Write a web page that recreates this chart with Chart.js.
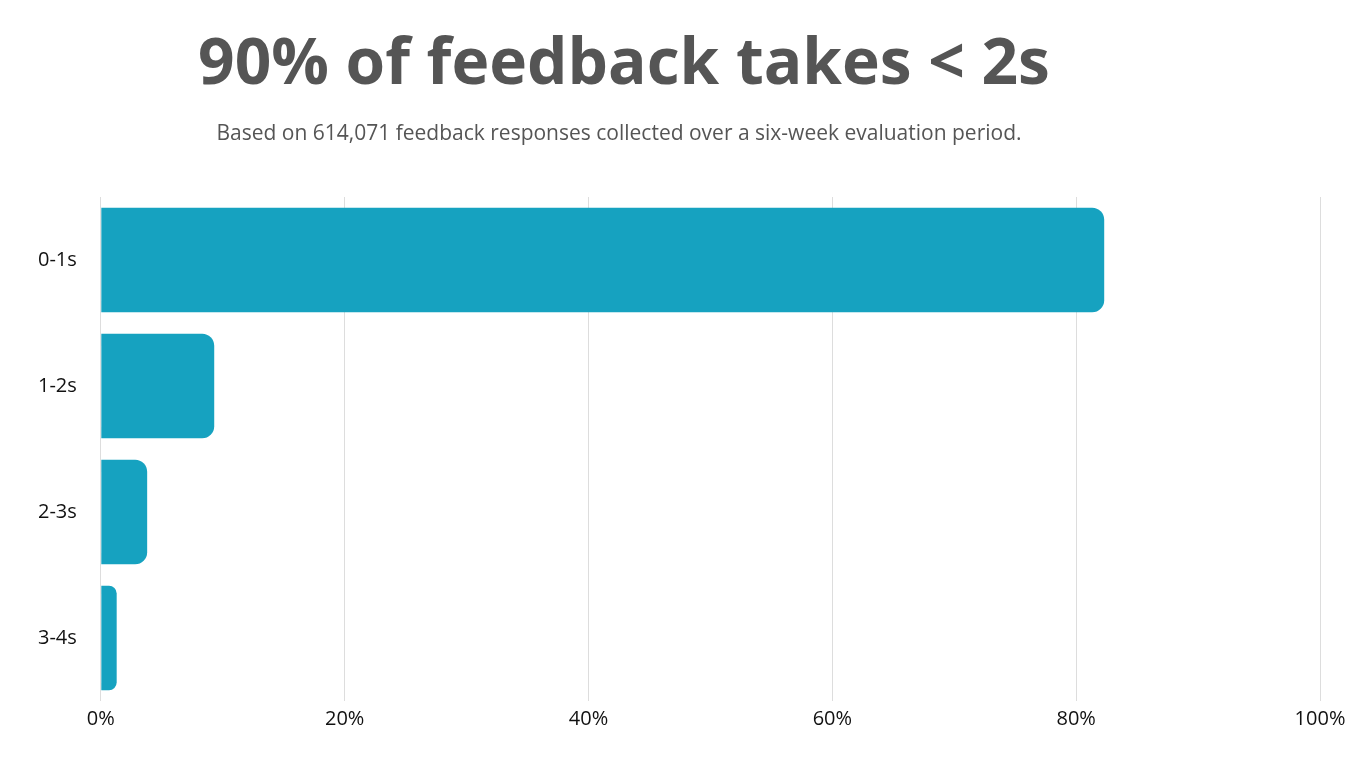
<!DOCTYPE html>
<html lang="en">
<head>
<meta charset="UTF-8">
<title>Feedback latency</title>
<script src="https://cdn.jsdelivr.net/npm/chart.js"></script>
<style>
  html, body { margin: 0; padding: 0; background: #fff; }
  #wrap { width: 1370px; height: 757px; position: relative; font-family: 'Open Sans', sans-serif; color: #555; }
  #wrap canvas { position: absolute; left: 0; top: 0; }
  h1 { position: absolute; left: 0; width: 1248px; top: 22px; margin: 0; text-align: center;
       font-size: 64px; font-weight: bold; line-height: 76px; }
  p.sub { position: absolute; left: 0; width: 1238px; top: 118px; margin: 0; text-align: center;
       font-size: 21px; line-height: 28px; }
</style>
</head>
<body>
<div id="wrap">
  <canvas id="chart"></canvas>
  <h1>90% of feedback takes &lt; 2s</h1>
  <p class="sub">Based on 614,071 feedback responses collected over a six-week evaluation period.</p>
</div>
<script>
const categories = ['0-1s', '1-2s', '2-3s', '3-4s'];
const shares = [82.3, 9.3, 3.8, 1.3];
const tickValues = [0, 20, 40, 60, 80, 100];

new Chart(document.getElementById('chart').getContext('2d'), {
    type: 'bar',
    data: {
        labels: categories,
        datasets: [{
            data: shares,
            backgroundColor: '#16a2c0',
            borderRadius: { topRight: 12, bottomRight: 12 },
            borderSkipped: 'start',
            barPercentage: 0.83,
            categoryPercentage: 1
        }]
    },
    options: {
        indexAxis: 'y',
        responsive: true,
        maintainAspectRatio: false,
        animation: false,
        layout: { padding: { left: 22, right: 50, top: 197, bottom: 20 } },
        plugins: {
            legend: { display: false },
            tooltip: { enabled: false }
        },
        scales: {
            x: {
                min: 0, max: 100,
                afterBuildTicks: axis => { axis.ticks = tickValues.map(v => ({ value: v })); },
                ticks: {
                    callback: v => v + '%',
                    color: '#111',
                    font: { family: 'Open Sans', size: 20 },
                    padding: 6
                },
                grid: { color: '#dddddd', drawTicks: false },
                border: { display: false }
            },
            y: {
                ticks: {
                    color: '#111',
                    font: { family: 'Open Sans', size: 20 },
                    padding: 16
                },
                grid: { display: false },
                border: { display: false }
            }
        }
    }
});
</script>
</body>
</html>
